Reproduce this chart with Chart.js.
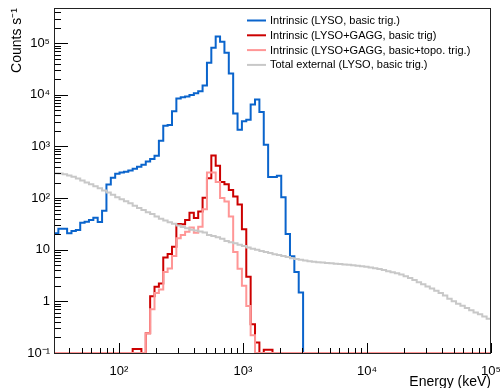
<!DOCTYPE html>
<html>
<head>
<meta charset="utf-8">
<script src="https://cdn.jsdelivr.net/npm/chart.js@4.4.1/dist/chart.umd.min.js"></script>
<style>
  html, body { margin: 0; padding: 0; background: #fff; }
  #wrap { width: 500px; height: 388px; }
</style>
</head>
<body>
<div id="wrap"><canvas id="chart"></canvas></div>
<script>
// histogram binning: 100 log-spaced bins from 30 keV to 100 MeV
const E_MIN = 30, E_MAX = 1e5, N_BINS = 100;
const Y_MIN = 0.1, Y_MAX = 4.8e5;
const binEdges = [];
for (let i = 0; i <= N_BINS; i++) binEdges.push(E_MIN * Math.pow(E_MAX / E_MIN, i / N_BINS));

const seriesLabels = [
  'Intrinsic (LYSO, basic trig.)',
  'Intrinsic (LYSO+GAGG, basic trig)',
  'Intrinsic (LYSO+GAGG, basic+topo. trig.)',
  'Total external (LYSO, basic trig.)'
];
const seriesColors = ['#0a64cc', '#cc0000', '#ff9696', '#c8c8c8'];

// counts per second in each bin (0 = empty bin)
const lysoBasic = [
  20.8, 25.6, 25.6, 20.8, 23.1, 24.1, 33.4, 35, 37.7, 41.8,
  34.5, 57, 183, 247, 295, 313, 323, 342, 369, 403,
  441, 513, 569, 661, 1290, 2515, 2600, 4780, 8440, 8950,
  9230, 9950, 10700, 11700, 15100, 41600, 81300, 135000, 106000, 65000,
  25800, 4370, 2110, 3060, 3300, 6500, 8070, 4660, 1080, 255,
  255, 270, 104, 20.2, 7.5, 3.7, 1.49, 0, 0, 0,
  0, 0, 0, 0, 0, 0, 0, 0, 0, 0,
  0, 0, 0, 0, 0, 0, 0, 0, 0, 0,
  0, 0, 0, 0, 0, 0, 0, 0, 0, 0,
  0, 0, 0, 0, 0, 0, 0, 0, 0, 0
];
const gaggBasic = [
  0, 0, 0, 0, 0, 0, 0, 0, 0, 0,
  0, 0, 0, 0, 0, 0, 0, 0, 0.12, 0.12,
  0, 0.24, 1.26, 1.91, 2.23, 7.1, 8.3, 11.4, 31.6, 31,
  37.7, 52, 41, 55, 102, 243, 669, 422, 204, 186,
  144, 107, 75, 25, 3.0, 0.36, 0.16, 0, 0.115, 0.115,
  0, 0, 0, 0, 0, 0, 0, 0, 0, 0,
  0, 0, 0, 0, 0, 0, 0, 0, 0, 0,
  0, 0, 0, 0, 0, 0, 0, 0, 0, 0,
  0, 0, 0, 0, 0, 0, 0, 0, 0, 0,
  0, 0, 0, 0, 0, 0, 0, 0, 0, 0
];
const gaggTopo = [
  0, 0, 0, 0, 0, 0, 0, 0, 0, 0,
  0, 0, 0, 0, 0, 0, 0, 0, 0, 0,
  0, 0.24, 0.70, 1.45, 1.7, 3.7, 4.35, 7.6, 16.6, 19.3,
  22.4, 27, 21.3, 28, 61, 313, 313, 206, 100, 86,
  44, 9, 4.3, 2.0, 0.81, 0.22, 0, 0, 0, 0,
  0, 0, 0, 0, 0, 0, 0, 0, 0, 0,
  0, 0, 0, 0, 0, 0, 0, 0, 0, 0,
  0, 0, 0, 0, 0, 0, 0, 0, 0, 0,
  0, 0, 0, 0, 0, 0, 0, 0, 0, 0,
  0, 0, 0, 0, 0, 0, 0, 0, 0, 0
];
const externalTotal = [
  304, 300, 290, 275, 258, 240, 218, 200, 186, 170,
  155, 141, 128, 116, 104, 95, 87, 79, 71, 64,
  59, 53, 49, 44, 40, 37, 34, 32, 29.5, 27.5,
  26, 24.5, 23.5, 22.5, 21.5, 19.3, 18.5, 17.5, 16.3, 14.8,
  14, 13.3, 12.5, 11.8, 11.1, 10.5, 10, 9.5, 9, 8.6,
  8.2, 7.9, 7.6, 7.2, 6.8, 6.6, 6.4, 6.2, 6.0, 5.85,
  5.75, 5.65, 5.55, 5.45, 5.35, 5.3, 5.2, 5.1, 5.0, 4.9,
  4.8, 4.7, 4.55, 4.4, 4.25, 4.05, 3.85, 3.65, 3.5, 3.3,
  3.05, 2.85, 2.6, 2.35, 2.15, 1.95, 1.78, 1.6, 1.45, 1.3,
  1.12, 1.0, 0.9, 0.82, 0.74, 0.67, 0.61, 0.56, 0.51, 0.46
];

const yTickValues = [0.1, 1, 10, 100, 1e3, 1e4, 1e5];
const yTickLabels = ['10⁻¹', '1', '10', '10²', '10³', '10⁴', '10⁵'];
const xTickValues = [100, 1e3, 1e4, 1e5];
const xTickLabels = ['10²', '10³', '10⁴', '10⁵'];

const FONT = "'Liberation Sans', Arial, Helvetica, sans-serif";

// step points at the bin edges, empty bins sit on the axis floor
function histPoints(vals) {
  const pts = [{ x: binEdges[0], y: Y_MIN }];
  vals.forEach((v, i) => pts.push({ x: binEdges[i], y: Math.max(v, Y_MIN) }));
  pts.push({ x: binEdges[N_BINS], y: Math.max(vals[N_BINS - 1], Y_MIN) });
  return pts;
}

function histSet(i, vals, order) {
  return {
    label: seriesLabels[i],
    data: histPoints(vals),
    borderColor: seriesColors[i],
    backgroundColor: seriesColors[i],
    borderWidth: 2,
    stepped: 'before',
    pointRadius: 0,
    fill: false,
    order: order
  };
}

// ROOT-like frame, inward ticks and legend box
const rootDecor = {
  id: 'rootDecor',
  afterDatasetsDraw(chart) {
    const { ctx, chartArea: a, scales } = chart;
    const xs = scales.x, ys = scales.y;
    ctx.save();
    ctx.strokeStyle = '#000';
    ctx.lineWidth = 1;
    ctx.beginPath();
    for (let d = -1; d <= 5; d++) {
      for (let m = 1; m <= 9; m++) {
        const v = m * Math.pow(10, d);
        if (v < ys.min || v > ys.max) continue;
        const py = Math.round(ys.getPixelForValue(v)) + 0.5;
        ctx.moveTo(a.left, py);
        ctx.lineTo(a.left + (m === 1 ? 14 : 7), py);
      }
    }
    for (let d = 1; d <= 5; d++) {
      for (let m = 1; m <= 9; m++) {
        const v = m * Math.pow(10, d);
        if (v <= xs.min || v > xs.max) continue;
        const px = Math.round(xs.getPixelForValue(v)) + 0.5;
        ctx.moveTo(px, a.bottom);
        ctx.lineTo(px, a.bottom - (m === 1 ? 10 : 5));
      }
    }
    ctx.stroke();
    ctx.strokeStyle = '#222';
    ctx.strokeRect(Math.round(a.left) + 0.5, Math.round(a.top) + 0.5,
      Math.round(a.right - a.left) - 1, Math.round(a.bottom - a.top));
    ctx.restore();
  },
  afterDraw(chart) {
    const ctx = chart.ctx;
    ctx.save();
    ctx.font = '11px ' + FONT;
    ctx.textBaseline = 'middle';
    ctx.textAlign = 'left';
    seriesLabels.forEach((lab, i) => {
      const yy = 20.5 + i * 14.8;
      ctx.strokeStyle = seriesColors[i];
      ctx.lineWidth = 2;
      ctx.beginPath();
      ctx.moveTo(247, yy);
      ctx.lineTo(266, yy);
      ctx.stroke();
      ctx.fillStyle = '#000';
      ctx.fillText(lab, 270, yy + 0.5);
    });
    ctx.restore();
  }
};

new Chart(document.getElementById('chart'), {
  type: 'line',
  data: {
    datasets: [
      histSet(3, externalTotal, 0),
      histSet(2, gaggTopo, 1),
      histSet(1, gaggBasic, 2),
      histSet(0, lysoBasic, 3)
    ]
  },
  options: {
    responsive: true,
    maintainAspectRatio: false,
    animation: false,
    layout: { padding: { top: 8, right: 9, left: 0, bottom: 0 } },
    plugins: { legend: { display: false }, tooltip: { enabled: false } },
    elements: { line: { tension: 0, borderJoinStyle: 'miter', borderCapStyle: 'butt' } },
    scales: {
      x: {
        type: 'logarithmic',
        position: 'bottom',
        min: E_MIN,
        max: E_MAX,
        grid: { display: false, drawTicks: false },
        border: { display: false },
        afterBuildTicks: s => { s.ticks = xTickValues.map(v => ({ value: v })); },
        afterFit: s => { s.height = 35; s.paddingLeft = 0; s.paddingRight = 0; },
        ticks: {
          autoSkip: false, maxRotation: 0, padding: 11,
          color: '#000', font: { family: FONT, size: 13 },
          callback: v => xTickLabels[xTickValues.indexOf(v)]
        },
        title: {
          display: true, text: 'Energy (keV)', align: 'end',
          color: '#000', font: { family: FONT, size: 14 }, padding: { top: 0, bottom: -3 }
        }
      },
      y: {
        type: 'logarithmic',
        position: 'left',
        min: Y_MIN,
        max: Y_MAX,
        grid: { display: false, drawTicks: false },
        border: { display: false },
        afterBuildTicks: s => { s.ticks = yTickValues.map(v => ({ value: v })); },
        afterFit: s => { s.width = 54; s.paddingTop = 0; s.paddingBottom = 0; },
        ticks: {
          autoSkip: false, padding: 4,
          color: '#000', font: { family: FONT, size: 13 },
          callback: v => yTickLabels[yTickValues.indexOf(v)]
        },
        title: {
          display: true, text: 'Counts s⁻¹', align: 'end',
          color: '#000', font: { family: FONT, size: 14 }, padding: { top: 9, bottom: 0 }
        }
      }
    }
  },
  plugins: [rootDecor]
});
</script>
</body>
</html>
